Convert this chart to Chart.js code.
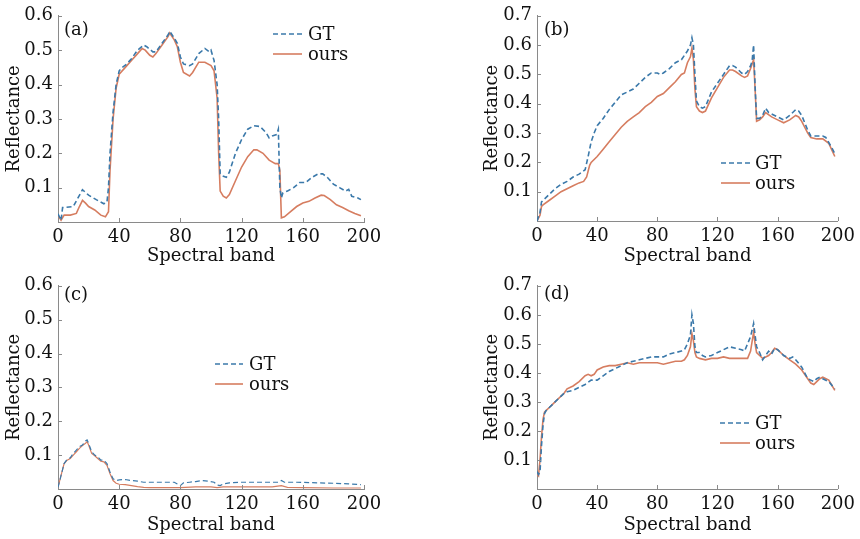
<!DOCTYPE html>
<html>
<head>
<meta charset="utf-8">
<script src="https://cdn.jsdelivr.net/npm/chart.js@4.4.1/dist/chart.umd.min.js"></script>
<style>
    body { margin: 0; background: #fff; }
    #wrap { position: relative; width: 860px; height: 539px; }
    canvas { position: absolute; }
</style>
</head>
<body>
<div id="wrap">
    <canvas id="pa" width="430" height="270" style="left:0;top:0"></canvas>
    <canvas id="pb" width="430" height="270" style="left:430px;top:0"></canvas>
    <canvas id="pc" width="430" height="269" style="left:0;top:270px"></canvas>
    <canvas id="pd" width="430" height="269" style="left:430px;top:270px"></canvas>
</div>
<script>
// tick labels
const xTickValues = [0, 40, 80, 120, 160, 200];
const yTicks06 = [0.1, 0.2, 0.3, 0.4, 0.5, 0.6];
const yTicks07 = [0.1, 0.2, 0.3, 0.4, 0.5, 0.6, 0.7];
const seriesNames = ['GT', 'ours'];

// (a)
const aBandsGT = [0, 2, 3, 10, 16, 20, 25, 30, 32, 33, 34, 36, 38, 40, 42, 45, 48, 52, 56, 58, 62, 64, 68, 72, 73, 76, 78, 80, 82, 86, 88, 92, 96, 99, 100, 102, 104, 105, 106, 107, 110, 112, 116, 120, 124, 128, 132, 136, 138, 140, 143, 144, 145, 146, 147, 150, 154, 158, 162, 166, 170, 173, 176, 180, 184, 188, 190, 192, 196, 198];
const aGT = [0.024, 0.005, 0.042, 0.045, 0.094, 0.078, 0.065, 0.053, 0.058, 0.1, 0.2, 0.32, 0.4, 0.44, 0.45, 0.46, 0.475, 0.5, 0.515, 0.51, 0.495, 0.495, 0.52, 0.545, 0.555, 0.535, 0.52, 0.48, 0.46, 0.455, 0.46, 0.49, 0.505, 0.495, 0.5, 0.47, 0.4, 0.3, 0.14, 0.135, 0.13, 0.145, 0.2, 0.24, 0.27, 0.28, 0.278, 0.26, 0.245, 0.25, 0.255, 0.27, 0.1, 0.07, 0.085, 0.09, 0.1, 0.115, 0.115, 0.13, 0.14, 0.14, 0.13, 0.11, 0.1, 0.09, 0.095, 0.075, 0.07, 0.065];
const aBandsOurs = [0, 2, 4, 8, 12, 14, 16, 18, 20, 24, 28, 31, 33, 34, 36, 38, 40, 44, 48, 52, 55, 57, 60, 62, 64, 68, 72, 73, 76, 78, 80, 82, 86, 88, 92, 96, 100, 102, 104, 105, 106, 108, 110, 112, 116, 120, 124, 128, 130, 134, 138, 142, 144, 145, 146, 148, 152, 156, 160, 164, 168, 172, 174, 178, 182, 186, 190, 194, 198];
const aOurs = [0.02, 0.005, 0.02, 0.02, 0.025, 0.045, 0.063, 0.055, 0.045, 0.035, 0.02, 0.015, 0.03, 0.15, 0.3, 0.39, 0.43, 0.45, 0.47, 0.49, 0.505, 0.5, 0.485, 0.48, 0.49, 0.515, 0.54, 0.55, 0.53, 0.51, 0.465, 0.435, 0.425, 0.435, 0.465, 0.465, 0.455, 0.44, 0.36, 0.2, 0.09, 0.075, 0.07, 0.08, 0.12, 0.16, 0.19, 0.21, 0.21, 0.2, 0.18, 0.17, 0.17, 0.15, 0.012, 0.015, 0.03, 0.045, 0.055, 0.06, 0.07, 0.078, 0.077, 0.065, 0.05, 0.042, 0.033, 0.025, 0.018];

// (b)
const bBandsGT = [0, 2, 3, 4, 8, 12, 16, 20, 24, 28, 32, 34, 36, 38, 40, 44, 48, 52, 56, 60, 64, 68, 72, 76, 80, 82, 84, 88, 92, 96, 98, 100, 102, 103, 104, 105, 106, 108, 110, 112, 116, 120, 124, 128, 130, 132, 136, 138, 140, 142, 143, 144, 145, 146, 148, 150, 152, 154, 156, 160, 164, 168, 172, 174, 176, 180, 182, 186, 190, 192, 196, 198];
const bGT = [0.0, 0.03, 0.065, 0.07, 0.09, 0.11, 0.125, 0.135, 0.15, 0.16, 0.175, 0.22, 0.27, 0.3, 0.325, 0.35, 0.38, 0.405, 0.43, 0.44, 0.45, 0.47, 0.49, 0.505, 0.505, 0.5, 0.505, 0.52, 0.54, 0.55, 0.565, 0.58, 0.6, 0.625, 0.6, 0.5, 0.41, 0.39, 0.385, 0.39, 0.44, 0.47, 0.5, 0.53, 0.53, 0.525, 0.505, 0.5, 0.51, 0.53, 0.545, 0.6, 0.46, 0.35, 0.35, 0.36, 0.385, 0.37, 0.365, 0.355, 0.345, 0.36, 0.38, 0.375, 0.36, 0.31, 0.29, 0.29, 0.29, 0.285, 0.25, 0.23];
const bBandsOurs = [0, 2, 3, 4, 8, 12, 16, 20, 24, 28, 31, 33, 35, 36, 40, 44, 48, 52, 56, 60, 64, 68, 72, 76, 80, 84, 88, 92, 96, 98, 100, 102, 103, 104, 105, 106, 108, 110, 112, 116, 120, 124, 128, 130, 132, 136, 138, 140, 142, 144, 145, 146, 148, 150, 152, 156, 160, 164, 168, 172, 174, 176, 180, 182, 186, 190, 194, 198];
const bOurs = [0.0, 0.02, 0.05, 0.055, 0.07, 0.085, 0.1, 0.11, 0.12, 0.13, 0.135, 0.15, 0.19, 0.2, 0.22, 0.245, 0.27, 0.295, 0.32, 0.34, 0.355, 0.37, 0.39, 0.405, 0.425, 0.435, 0.455, 0.475, 0.5, 0.505, 0.54, 0.56, 0.59, 0.55, 0.45, 0.39, 0.375, 0.37, 0.375, 0.42, 0.455, 0.49, 0.515, 0.515, 0.51, 0.495, 0.49, 0.495, 0.52, 0.55, 0.45, 0.34, 0.345, 0.355, 0.37, 0.355, 0.345, 0.335, 0.345, 0.36, 0.355, 0.34, 0.3, 0.285, 0.28, 0.28, 0.265, 0.22];

// (c)
const cBandsGT = [0, 2, 4, 6, 8, 10, 12, 14, 16, 18, 19, 20, 22, 24, 26, 28, 30, 32, 34, 36, 38, 40, 44, 48, 52, 56, 60, 64, 70, 76, 78, 80, 82, 86, 90, 94, 98, 102, 104, 106, 108, 112, 120, 130, 140, 144, 146, 148, 156, 170, 180, 190, 198];
const cGT = [0.005, 0.04, 0.075, 0.088, 0.092, 0.105, 0.115, 0.125, 0.13, 0.142, 0.145, 0.135, 0.11, 0.1, 0.095, 0.085, 0.085, 0.075, 0.05, 0.03, 0.025, 0.027, 0.028, 0.025, 0.023, 0.02, 0.02, 0.02, 0.02, 0.02, 0.015, 0.01, 0.018, 0.02, 0.022, 0.025, 0.023, 0.02, 0.012, 0.01, 0.015, 0.018, 0.02, 0.02, 0.02, 0.02, 0.025, 0.02, 0.02, 0.018, 0.017, 0.015, 0.013];
const cBandsOurs = [0, 2, 4, 6, 8, 10, 12, 14, 16, 18, 19, 20, 22, 24, 26, 28, 30, 32, 34, 36, 38, 40, 44, 48, 52, 56, 60, 70, 80, 90, 100, 104, 108, 120, 140, 146, 150, 160, 180, 198];
const cOurs = [0.005, 0.04, 0.075, 0.085, 0.09, 0.1, 0.11, 0.12, 0.128, 0.135, 0.14, 0.13, 0.105, 0.098, 0.09, 0.082, 0.08, 0.07, 0.045, 0.025, 0.017, 0.014, 0.013, 0.01, 0.007, 0.005, 0.004, 0.004, 0.004, 0.006, 0.006, 0.004, 0.006, 0.006, 0.006, 0.01, 0.005, 0.004, 0.003, 0.003];

// (d)
const dBandsGT = [0, 1, 2, 3, 4, 5, 6, 8, 10, 12, 14, 16, 18, 20, 24, 28, 32, 36, 40, 44, 48, 52, 56, 60, 64, 68, 72, 76, 80, 84, 88, 92, 96, 98, 100, 102, 103, 104, 105, 106, 108, 110, 112, 116, 120, 124, 128, 132, 136, 138, 140, 142, 144, 145, 146, 148, 150, 152, 154, 156, 158, 160, 164, 168, 170, 172, 176, 180, 182, 184, 186, 188, 190, 194, 198];
const dGT = [0.06, 0.05, 0.06, 0.15, 0.22, 0.26, 0.27, 0.28, 0.29, 0.3, 0.31, 0.32, 0.33, 0.335, 0.34, 0.35, 0.36, 0.375, 0.375, 0.39, 0.405, 0.415, 0.425, 0.435, 0.44, 0.445, 0.45, 0.455, 0.455, 0.455, 0.465, 0.47, 0.475, 0.48, 0.5, 0.53, 0.6, 0.57, 0.49, 0.47, 0.47, 0.46, 0.455, 0.46, 0.47, 0.48, 0.49, 0.485, 0.48, 0.475, 0.5, 0.525, 0.57, 0.53, 0.49, 0.47, 0.445, 0.46, 0.475, 0.465, 0.485, 0.48, 0.46, 0.45, 0.455, 0.445, 0.42, 0.38, 0.375, 0.37, 0.38, 0.385, 0.38, 0.37, 0.345];
const dBandsOurs = [0, 1, 2, 3, 4, 5, 6, 8, 10, 12, 14, 16, 18, 20, 24, 28, 32, 34, 36, 38, 40, 44, 48, 52, 56, 60, 64, 68, 72, 76, 80, 84, 88, 92, 96, 98, 100, 102, 103, 104, 105, 106, 108, 112, 116, 120, 124, 128, 132, 136, 140, 142, 144, 145, 146, 148, 150, 152, 154, 156, 158, 160, 164, 168, 172, 176, 180, 182, 184, 186, 188, 190, 194, 198];
const dOurs = [0.05, 0.045, 0.1, 0.18, 0.24, 0.265, 0.27, 0.28, 0.29, 0.3, 0.31, 0.32, 0.33, 0.345, 0.355, 0.37, 0.39, 0.395, 0.39, 0.395, 0.41, 0.42, 0.425, 0.425, 0.43, 0.435, 0.43, 0.435, 0.435, 0.435, 0.435, 0.43, 0.435, 0.44, 0.44, 0.445, 0.46, 0.49, 0.535, 0.51, 0.47, 0.455, 0.45, 0.445, 0.45, 0.45, 0.455, 0.45, 0.45, 0.45, 0.45, 0.475, 0.54, 0.5, 0.47, 0.46, 0.45, 0.455, 0.46, 0.47, 0.485, 0.48, 0.46, 0.445, 0.43, 0.41, 0.38, 0.365, 0.36, 0.37, 0.38, 0.385, 0.375, 0.34];

const GT_COLOR = '#3b79aa';
const OURS_COLOR = '#d67d60';
const AXIS_COLOR = '#8a8a8a';
const FONT = "'DejaVu Serif', serif";
const FONT_SIZE = 18;

function pts(bands, vals) {
    return bands.map((b, i) => ({ x: b, y: vals[i] }));
}

// inward ticks, panel tag and legend drawn on top of the chart
const decorPlugin = {
    id: 'decor',
    afterDraw(chart, args, opts) {
        const ctx = chart.ctx;
        const area = chart.chartArea;
        const xs = chart.scales.x;
        const ys = chart.scales.y;
        ctx.save();
        ctx.strokeStyle = AXIS_COLOR;
        ctx.lineWidth = 1;
        ctx.beginPath();
        xTickValues.forEach(v => {
            if (v === 0) return;
            const px = Math.round(xs.getPixelForValue(v)) + 0.5;
            ctx.moveTo(px, area.bottom);
            ctx.lineTo(px, area.bottom - 4);
        });
        opts.yTicks.forEach(v => {
            const py = Math.round(ys.getPixelForValue(v)) + 0.5;
            ctx.moveTo(area.left, py);
            ctx.lineTo(area.left + 4, py);
        });
        ctx.stroke();

        ctx.fillStyle = '#111';
        ctx.font = FONT_SIZE + 'px ' + FONT;
        ctx.textBaseline = 'middle';
        ctx.fillText(opts.tag, opts.tagX, opts.tagY);

        const lg = opts.legend;
        ctx.lineWidth = 1.6;
        ctx.strokeStyle = GT_COLOR;
        ctx.setLineDash([5, 3]);
        ctx.beginPath();
        ctx.moveTo(lg.x1, lg.y1);
        ctx.lineTo(lg.x2, lg.y1);
        ctx.stroke();
        ctx.setLineDash([]);
        ctx.strokeStyle = OURS_COLOR;
        ctx.beginPath();
        ctx.moveTo(lg.x1, lg.y2);
        ctx.lineTo(lg.x2, lg.y2);
        ctx.stroke();
        ctx.fillText(seriesNames[0], lg.tx, lg.y1 + 1);
        ctx.fillText(seriesNames[1], lg.tx, lg.y2 + 1);
        ctx.restore();
    }
};

function makePanel(p) {
    new Chart(document.getElementById(p.id), {
        type: 'line',
        data: {
            datasets: [
                {
                    label: seriesNames[0],
                    data: pts(p.gtBands, p.gt),
                    borderColor: GT_COLOR,
                    borderWidth: p.lw,
                    borderDash: [5, 3],
                    pointRadius: 0,
                    tension: 0,
                    fill: false
                },
                {
                    label: seriesNames[1],
                    data: pts(p.oursBands, p.ours),
                    borderColor: OURS_COLOR,
                    borderWidth: p.lw,
                    pointRadius: 0,
                    tension: 0,
                    fill: false
                }
            ]
        },
        options: {
            responsive: false,
            animation: false,
            layout: { padding: { left: p.padLeft, top: p.padTop, right: p.padRight, bottom: 0 } },
            plugins: {
                legend: { display: false },
                tooltip: { enabled: false },
                decor: { tag: p.tag, tagX: p.tagX, tagY: p.tagY, legend: p.legend, yTicks: p.yTicks }
            },
            scales: {
                x: {
                    type: 'linear',
                    min: 0,
                    max: 200,
                    afterBuildTicks: s => { s.ticks = xTickValues.map(v => ({ value: v })); },
                    afterFit: s => { s.height = p.xH; },
                    grid: { display: false, drawTicks: false },
                    border: { display: true, color: AXIS_COLOR, width: 1 },
                    ticks: { color: '#111', font: { family: FONT, size: FONT_SIZE }, padding: 5, maxRotation: 0, autoSkip: false },
                    title: { display: true, text: 'Spectral band', color: '#111', font: { family: FONT, size: FONT_SIZE }, padding: { top: 0, bottom: 3 } }
                },
                y: {
                    min: 0,
                    max: p.yMax,
                    afterBuildTicks: s => { s.ticks = [0].concat(p.yTicks).map(v => ({ value: v })); },
                    afterFit: s => { s.width = p.yW; },
                    grid: { display: false, drawTicks: false },
                    border: { display: true, color: AXIS_COLOR, width: 1 },
                    ticks: {
                        color: '#111',
                        font: { family: FONT, size: FONT_SIZE },
                        padding: 5,
                        autoSkip: false,
                        callback: v => v === 0 ? '' : v.toFixed(1)
                    },
                    title: { display: true, text: 'Reflectance', color: '#111', font: { family: FONT, size: FONT_SIZE }, padding: { top: 4, bottom: 0 } }
                }
            }
        },
        plugins: [decorPlugin]
    });
}

makePanel({
    id: 'pa', tag: '(a)', tagX: 64, tagY: 30,
    gtBands: aBandsGT, gt: aGT, oursBands: aBandsOurs, ours: aOurs,
    yMax: 0.6, yTicks: yTicks06, lw: 1.6,
    padLeft: 0, padTop: 15, padRight: 66, yW: 58, xH: 48,
    legend: { x1: 273, x2: 302, tx: 308, y1: 34, y2: 54 }
});
makePanel({
    id: 'pb', tag: '(b)', tagX: 114, tagY: 30,
    gtBands: bBandsGT, gt: bGT, oursBands: bBandsOurs, ours: bOurs,
    yMax: 0.7, yTicks: yTicks07, lw: 1.6,
    padLeft: 48, padTop: 15, padRight: 17, yW: 59, xH: 49,
    legend: { x1: 291, x2: 320, tx: 325, y1: 163, y2: 183 }
});
makePanel({
    id: 'pc', tag: '(c)', tagX: 64, tagY: 25,
    gtBands: cBandsGT, gt: cGT, oursBands: cBandsOurs, ours: cOurs,
    yMax: 0.6, yTicks: yTicks06, lw: 1.2,
    padLeft: 0, padTop: 13, padRight: 66, yW: 58, xH: 50,
    legend: { x1: 215, x2: 243, tx: 249, y1: 94, y2: 114 }
});
makePanel({
    id: 'pd', tag: '(d)', tagX: 114, tagY: 24,
    gtBands: dBandsGT, gt: dGT, oursBands: dBandsOurs, ours: dOurs,
    yMax: 0.7, yTicks: yTicks07, lw: 1.6,
    padLeft: 48, padTop: 15, padRight: 17, yW: 59, xH: 50,
    legend: { x1: 290, x2: 320, tx: 325, y1: 153, y2: 173 }
});
</script>
</body>
</html>
